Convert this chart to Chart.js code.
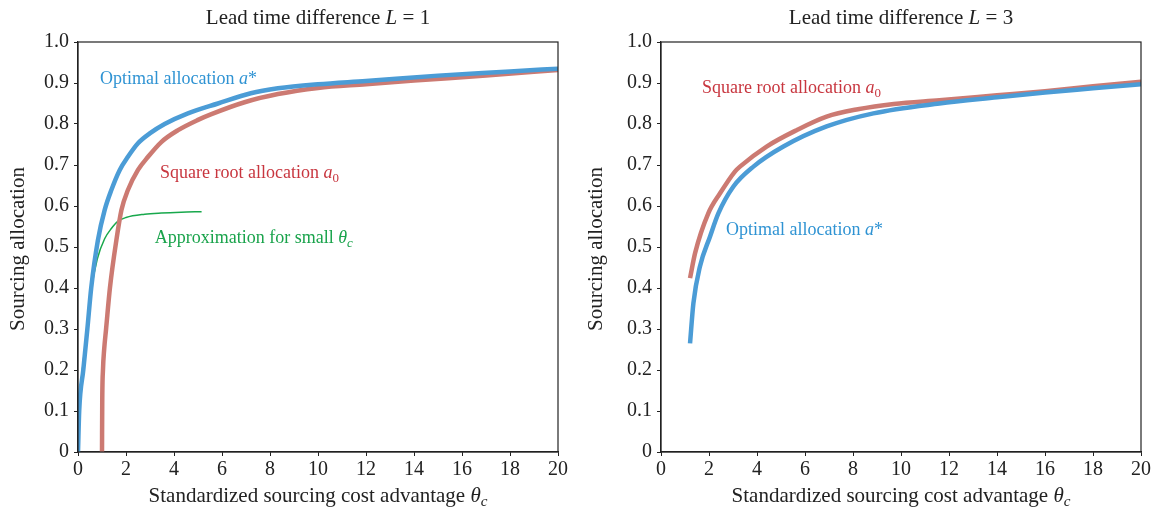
<!DOCTYPE html>
<html>
<head>
<meta charset="utf-8">
<script src="https://cdn.jsdelivr.net/npm/chart.js@4/dist/chart.umd.min.js"></script>
<style>
  body { margin: 0; background: #fff; }
  .wrap { position: absolute; top: 0; width: 578px; height: 514px; }
</style>
</head>
<body>
<div class="wrap" style="left:0"><canvas id="chartL" width="578" height="514"></canvas></div>
<div class="wrap" style="left:578px"><canvas id="chartR" width="578" height="514"></canvas></div>
<script>
// ---- data ----
// left panel, L = 1
const thetaOptL = [0, 0.05, 0.22, 0.39, 0.55, 0.83, 1.11, 1.39, 1.74, 2.08, 2.5, 2.99, 3.61, 4.58, 5.83, 7.2, 8.33, 10, 12, 15, 18, 20];
const allocOptL = [0, 0.1, 0.2, 0.3, 0.4, 0.517, 0.59, 0.639, 0.688, 0.72, 0.753, 0.777, 0.8, 0.826, 0.85, 0.875, 0.887, 0.897, 0.905, 0.918, 0.928, 0.935];
const thetaSqrtL = [1, 1.01, 1.04, 1.09, 1.17, 1.33, 1.6, 1.81, 2.08, 2.5, 2.92, 3.47, 4.17, 5.0, 5.56, 6.94, 8.33, 10, 12, 14, 17, 20];
const allocSqrtL = [0, 0.12, 0.2, 0.25, 0.3, 0.4, 0.517, 0.59, 0.639, 0.688, 0.72, 0.756, 0.785, 0.81, 0.824, 0.853, 0.873, 0.888, 0.897, 0.906, 0.918, 0.932];
const thetaApprox = [0, 0.05, 0.2, 0.39, 0.57, 0.8, 1.11, 1.39, 1.67, 2.0, 2.78, 3.47, 4.3, 5.15];
const allocApprox = [0, 0.1, 0.21, 0.3, 0.4, 0.47, 0.52, 0.545, 0.563, 0.572, 0.58, 0.583, 0.585, 0.586];
// right panel, L = 3
const thetaSqrtR = [1.21, 1.42, 1.97, 2.46, 3.08, 3.29, 4.4, 5.65, 6.9, 8.2, 9.7, 11.6, 14, 16, 18, 20];
const allocSqrtR = [0.424, 0.485, 0.582, 0.631, 0.684, 0.696, 0.745, 0.785, 0.818, 0.836, 0.849, 0.858, 0.87, 0.88, 0.892, 0.903];
const thetaOptR = [1.21, 1.35, 1.62, 2.04, 2.39, 3.01, 3.85, 5.1, 6.9, 8.85, 11.6, 14, 16, 18, 20];
const allocOptR = [0.265, 0.363, 0.452, 0.525, 0.582, 0.647, 0.696, 0.745, 0.794, 0.826, 0.85, 0.865, 0.877, 0.887, 0.897];

const xTicks = [0, 2, 4, 6, 8, 10, 12, 14, 16, 18, 20];
const yTicks = [0, 0.1, 0.2, 0.3, 0.4, 0.5, 0.6, 0.7, 0.8, 0.9, 1.0];

const FONT = "'Liberation Serif', 'DejaVu Serif', serif";
const INK = "#222";
const BLUE = "#4b9cd6";
const RED = "#cc7a72";
const GREEN = "#18a84c";

function pts(xs, ys) {
    return xs.map((x, i) => ({ x: x, y: ys[i] }));
}

// draws text made of pieces: {t, it (italic), sub (subscript)}
function drawRich(ctx, segs, x, y, size, color, align) {
    ctx.save();
    ctx.fillStyle = color;
    ctx.textBaseline = "middle";
    ctx.textAlign = "left";
    let total = 0;
    segs.forEach((s) => {
        const sz = s.sub ? size * 0.72 : size;
        ctx.font = (s.it ? "italic " : "") + sz + "px " + FONT;
        total += ctx.measureText(s.t).width;
    });
    let cx = align == "center" ? x - total / 2 : x;
    segs.forEach((s) => {
        const sz = s.sub ? size * 0.72 : size;
        ctx.font = (s.it ? "italic " : "") + sz + "px " + FONT;
        ctx.fillText(s.t, cx, s.sub ? y + size * 0.3 : y);
        cx += ctx.measureText(s.t).width;
    });
    ctx.restore();
}

const decor = {
    id: "decor",
    afterDatasetsDraw(chart, args, opts) {
        const ctx = chart.ctx;
        const a = chart.chartArea;
        const sx = chart.scales.x, sy = chart.scales.y;
        ctx.save();
        ctx.strokeStyle = INK;
        ctx.lineWidth = 1.2;
        ctx.strokeRect(a.left, a.top, a.right - a.left, a.bottom - a.top);
        ctx.restore();
        const mid = (a.left + a.right) / 2;
        drawRich(ctx, opts.title, mid, 18, 21, INK, "center");
        drawRich(ctx, [{ t: "Standardized sourcing cost advantage " }, { t: "θ", it: true }, { t: "c", it: true, sub: true }],
            mid, 496, 21, INK, "center");
        ctx.save();
        ctx.translate(18, (a.top + a.bottom) / 2 + 2);
        ctx.rotate(-Math.PI / 2);
        drawRich(ctx, [{ t: "Sourcing allocation" }], 0, 0, 21, INK, "center");
        ctx.restore();
        opts.notes.forEach((n) => {
            drawRich(ctx, n.segs, sx.getPixelForValue(n.x), sy.getPixelForValue(n.y), 18, n.color, "left");
        });
    }
};

function makeOptions(yWidth, padRight, title, notes) {
    return {
        responsive: false,
        animation: false,
        layout: { padding: { top: 42, right: padRight, left: 0, bottom: 0 } },
        plugins: {
            legend: { display: false },
            tooltip: { enabled: false },
            decor: { title: title, notes: notes }
        },
        elements: { point: { radius: 0 }, line: { cubicInterpolationMode: "monotone" } },
        scales: {
            x: {
                type: "linear", min: 0, max: 20,
                afterFit: (s) => { s.height = 62; },
                afterBuildTicks: (s) => { s.ticks = xTicks.map((v) => ({ value: v })); },
                grid: { drawOnChartArea: false, drawTicks: true, tickLength: 4, color: INK },
                border: { display: true, color: INK, width: 1.2 },
                ticks: { color: INK, font: { family: FONT, size: 20 }, padding: 2, maxRotation: 0 }
            },
            y: {
                type: "linear", min: 0, max: 1,
                afterFit: (s) => { s.width = yWidth; },
                afterBuildTicks: (s) => { s.ticks = yTicks.map((v) => ({ value: v })); },
                grid: { drawOnChartArea: false, drawTicks: true, tickLength: 4, color: INK },
                border: { display: true, color: INK, width: 1.2 },
                ticks: {
                    color: INK, font: { family: FONT, size: 20 }, padding: 5,
                    callback: (v) => (v == 0 ? "0" : v.toFixed(1))
                }
            }
        }
    };
}

new Chart(document.getElementById("chartL"), {
    type: "line",
    data: {
        datasets: [
            { label: "Optimal allocation a*", data: pts(thetaOptL, allocOptL), borderColor: BLUE, borderWidth: 4.5 },
            { label: "Square root allocation a0", data: pts(thetaSqrtL, allocSqrtL), borderColor: RED, borderWidth: 4.5 },
            { label: "Approximation for small θc", data: pts(thetaApprox, allocApprox), borderColor: GREEN, borderWidth: 1.5 }
        ]
    },
    options: makeOptions(78, 20,
        [{ t: "Lead time difference " }, { t: "L", it: true }, { t: " = 1" }],
        [
            { x: 0.92, y: 0.91, color: "#2f93d3", segs: [{ t: "Optimal allocation " }, { t: "a", it: true }, { t: "*" }] },
            { x: 3.42, y: 0.68, color: "#c8363f", segs: [{ t: "Square root allocation " }, { t: "a", it: true }, { t: "0", sub: true }] },
            { x: 3.2, y: 0.522, color: "#19a34b", segs: [{ t: "Approximation for small " }, { t: "θ", it: true }, { t: "c", it: true, sub: true }] }
        ]),
    plugins: [decor]
});

new Chart(document.getElementById("chartR"), {
    type: "line",
    data: {
        datasets: [
            { label: "Optimal allocation a*", data: pts(thetaOptR, allocOptR), borderColor: BLUE, borderWidth: 4.5 },
            { label: "Square root allocation a0", data: pts(thetaSqrtR, allocSqrtR), borderColor: RED, borderWidth: 4.5 }
        ]
    },
    options: makeOptions(83, 15,
        [{ t: "Lead time difference " }, { t: "L", it: true }, { t: " = 3" }],
        [
            { x: 1.71, y: 0.888, color: "#c8363f", segs: [{ t: "Square root allocation " }, { t: "a", it: true }, { t: "0", sub: true }] },
            { x: 2.71, y: 0.541, color: "#2f93d3", segs: [{ t: "Optimal allocation " }, { t: "a", it: true }, { t: "*" }] }
        ]),
    plugins: [decor]
});
</script>
</body>
</html>
